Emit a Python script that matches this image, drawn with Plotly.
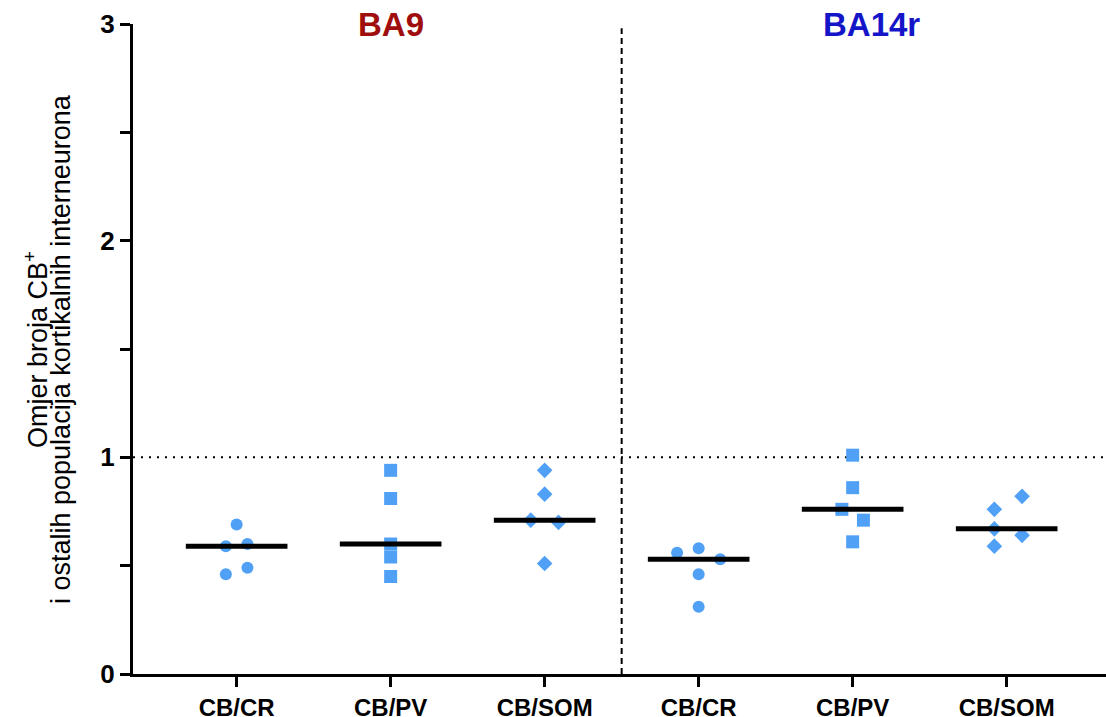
import numpy as np
import plotly.graph_objects as go

# categories (two regions, three ratios each)
categories = ["CB/CR", "CB/PV", "CB/SOM", "CB/CR", "CB/PV", "CB/SOM"]
regions = ["BA9", "BA14r"]

# ratio values per group
ba9_cr = [0.69, 0.59, 0.60, 0.46, 0.49]
ba9_pv = [0.94, 0.81, 0.60, 0.54, 0.45]
ba9_som = [0.94, 0.83, 0.71, 0.70, 0.51]
ba14_cr = [0.56, 0.58, 0.53, 0.46, 0.31]
ba14_pv = [1.01, 0.86, 0.76, 0.71, 0.61]
ba14_som = [0.82, 0.76, 0.67, 0.64, 0.59]

groups = [ba9_cr, ba9_pv, ba9_som, ba14_cr, ba14_pv, ba14_som]

# horizontal spread of the points inside each column
jitter = [
    [0.0, -0.07, 0.07, -0.07, 0.07],
    [0.0, 0.0, 0.0, 0.0, 0.0],
    [0.0, 0.0, -0.09, 0.09, 0.0],
    [-0.14, 0.0, 0.14, 0.0, 0.0],
    [0.0, 0.0, -0.07, 0.07, 0.0],
    [0.1, -0.08, -0.08, 0.1, -0.08],
]
symbols = ["circle", "square", "diamond", "circle", "square", "diamond"]
sizes = [12, 13, 12, 12, 13, 12]

BLUE = "#50a0f5"
FONT = "Liberation Sans, Arial, sans-serif"

fig = go.Figure()

for i, vals in enumerate(groups):
    xs = [i + d for d in jitter[i]]
    fig.add_trace(go.Scatter(
        x=xs, y=vals, mode="markers",
        marker=dict(symbol=symbols[i], size=sizes[i], color=BLUE, line=dict(width=0)),
        showlegend=False, hoverinfo="y",
    ))

# median bars
for i, vals in enumerate(groups):
    med = float(np.median(vals))
    fig.add_trace(go.Scatter(
        x=[i - 0.33, i + 0.33], y=[med, med], mode="lines",
        line=dict(color="black", width=5),
        showlegend=False, hoverinfo="skip",
    ))

# reference line at ratio 1 and separator between regions
fig.add_shape(type="line", xref="paper", x0=0, x1=1, yref="y", y0=1, y1=1,
              line=dict(color="black", width=2, dash="2px,6px"), layer="below")
fig.add_shape(type="line", xref="x", x0=2.5, x1=2.5, yref="y", y0=0, y1=2.98,
              line=dict(color="black", width=2, dash="6px,4px"), layer="below")

# region titles
fig.add_annotation(x=1, y=1, xref="x", yref="paper", text="<b>" + regions[0] + "</b>",
                   showarrow=False, yanchor="middle",
                   font=dict(family=FONT, size=33, color="#a00d0d"))
fig.add_annotation(x=4.12, y=1, xref="x", yref="paper", text="<b>" + regions[1] + "</b>",
                   showarrow=False, yanchor="middle",
                   font=dict(family=FONT, size=33, color="#1414c8"))

# y title, two lines set close together
fig.add_annotation(x=-0.0997, y=0.5, xref="paper", yref="paper",
                   text="Omjer broja CB<sup>+</sup>", textangle=-90,
                   showarrow=False, xanchor="center", yanchor="middle",
                   font=dict(family=FONT, size=27, color="black"))
fig.add_annotation(x=-0.074, y=0.5, xref="paper", yref="paper",
                   text="i ostalih populacija kortikalnih interneurona", textangle=-90,
                   showarrow=False, xanchor="center", yanchor="middle",
                   font=dict(family=FONT, size=27, color="black"))

fig.update_layout(
    width=1106, height=717,
    plot_bgcolor="white", paper_bgcolor="white",
    margin=dict(l=133, r=0, t=24, b=43),
    font=dict(family=FONT, color="black"),
    xaxis=dict(
        range=[-0.673, 5.645],
        tickvals=list(range(6)),
        ticktext=["<b>" + c + "</b>" for c in categories],
        tickfont=dict(size=24),
        ticklabelstandoff=0,
        showline=True, linecolor="black", linewidth=3,
        ticks="outside", ticklen=10, tickwidth=3, tickcolor="black",
        showgrid=False, zeroline=False, automargin=False,
    ),
    yaxis=dict(
        range=[0, 3],
        tickvals=[0, 1, 2, 3],
        ticktext=["<b>0</b>", "<b>1</b>", "<b>2</b>", "<b>3</b>"],
        tickfont=dict(size=26),
        showline=True, linecolor="black", linewidth=3,
        ticks="outside", ticklen=10, tickwidth=3, tickcolor="black",
        minor=dict(dtick=0.5, ticks="outside", ticklen=10, tickwidth=3,
                   tickcolor="black", showgrid=False),
        showgrid=False, zeroline=False, automargin=False,
    ),
)

fig.write_html("out.html", config={"displayModeBar": False},
               post_script="document.body.style.margin='0';")
